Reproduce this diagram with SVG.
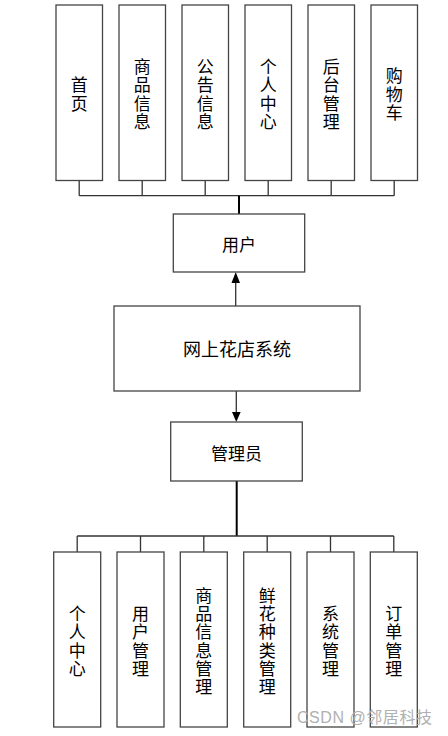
<svg xmlns="http://www.w3.org/2000/svg" width="448" height="736" viewBox="0 0 448 736">
<style>
.box{fill:#fff;stroke:#444;stroke-width:1.3}
.t{font-family:"Noto Sans CJK SC","Noto Sans",sans-serif;font-size:17px;fill:#000;text-anchor:middle;dominant-baseline:central}
.ln{stroke:#333;stroke-width:1.3;fill:none}
.stem{stroke:#000;stroke-width:2;fill:none}
.wm{font-family:"Liberation Sans","Noto Sans CJK SC",sans-serif;font-size:16px;fill:#b0b0b0}
</style>
<rect width="448" height="736" fill="#fff"/>
<g id="connectors">
<path class="ln" d="M79.2 180.5V195.7M142.2 180.5V195.7M205.2 180.5V195.7M268.2 180.5V195.7M331.2 180.5V195.7M394.2 180.5V195.7M79.2 195.7H394.2"/>
<path class="stem" d="M239 195.7V214"/>
<path class="ln" d="M235.7 306V282"/>
<polygon points="235.7,272 231.5,283 240,283" fill="#000"/>
<path class="ln" d="M236.3 391V412"/>
<polygon points="236.3,422 232,412 240.6,412" fill="#000"/>
<path class="stem" d="M236.7 481V536"/>
<path class="ln" d="M77.2 536H393.8M77.2 536V552M140.5 536V552M203.8 536V552M267.2 536V552M330.5 536V552M393.8 536V552"/>
</g>
<g id="n_home"><rect class="box" x="56" y="5" width="46.5" height="175.5"/><text class="t"><tspan x="79.2" y="83.3">首</tspan><tspan x="79.2" y="101.7">页</tspan></text></g>
<g id="n_goods"><rect class="box" x="119" y="5" width="46.5" height="175.5"/><text class="t"><tspan x="142.2" y="65">商</tspan><tspan x="142.2" y="83.3">品</tspan><tspan x="142.2" y="101.7">信</tspan><tspan x="142.2" y="120">息</tspan></text></g>
<g id="n_notice"><rect class="box" x="182" y="5" width="46.5" height="175.5"/><text class="t"><tspan x="205.2" y="65">公</tspan><tspan x="205.2" y="83.3">告</tspan><tspan x="205.2" y="101.7">信</tspan><tspan x="205.2" y="120">息</tspan></text></g>
<g id="n_personal"><rect class="box" x="245" y="5" width="46.5" height="175.5"/><text class="t"><tspan x="268.2" y="65">个</tspan><tspan x="268.2" y="83.3">人</tspan><tspan x="268.2" y="101.7">中</tspan><tspan x="268.2" y="120">心</tspan></text></g>
<g id="n_backend"><rect class="box" x="308" y="5" width="46.5" height="175.5"/><text class="t"><tspan x="331.2" y="65">后</tspan><tspan x="331.2" y="83.3">台</tspan><tspan x="331.2" y="101.7">管</tspan><tspan x="331.2" y="120">理</tspan></text></g>
<g id="n_cart"><rect class="box" x="371" y="5" width="46.5" height="175.5"/><text class="t"><tspan x="394.2" y="74.2">购</tspan><tspan x="394.2" y="92.5">物</tspan><tspan x="394.2" y="110.8">车</tspan></text></g>
<g id="n_user"><rect class="box" x="173.3" y="214" width="131.4" height="58"/><text class="t" x="239" y="243">用户</text></g>
<g id="n_system"><rect class="box" x="114" y="306" width="246" height="85"/><text class="t" x="237" y="348" style="font-size:18px">网上花店系统</text></g>
<g id="n_admin"><rect class="box" x="170.7" y="422" width="131.6" height="59"/><text class="t" x="236.5" y="452">管理员</text></g>
<g id="m_personal"><rect class="box" x="53.7" y="552" width="47" height="175"/><text class="t"><tspan x="77.2" y="612">个</tspan><tspan x="77.2" y="630.3">人</tspan><tspan x="77.2" y="648.7">中</tspan><tspan x="77.2" y="667">心</tspan></text></g>
<g id="m_user"><rect class="box" x="117" y="552" width="47" height="175"/><text class="t"><tspan x="140.5" y="612">用</tspan><tspan x="140.5" y="630.3">户</tspan><tspan x="140.5" y="648.7">管</tspan><tspan x="140.5" y="667">理</tspan></text></g>
<g id="m_goods"><rect class="box" x="180.3" y="552" width="47" height="175"/><text class="t"><tspan x="203.8" y="593.8">商</tspan><tspan x="203.8" y="612">品</tspan><tspan x="203.8" y="630.3">信</tspan><tspan x="203.8" y="648.7">息</tspan><tspan x="203.8" y="667">管</tspan><tspan x="203.8" y="685.3">理</tspan></text></g>
<g id="m_flower"><rect class="box" x="243.7" y="552" width="47" height="175"/><text class="t"><tspan x="267.2" y="593.8">鲜</tspan><tspan x="267.2" y="612">花</tspan><tspan x="267.2" y="630.3">种</tspan><tspan x="267.2" y="648.7">类</tspan><tspan x="267.2" y="667">管</tspan><tspan x="267.2" y="685.3">理</tspan></text></g>
<g id="m_system"><rect class="box" x="307" y="552" width="47" height="175"/><text class="t"><tspan x="330.5" y="612">系</tspan><tspan x="330.5" y="630.3">统</tspan><tspan x="330.5" y="648.7">管</tspan><tspan x="330.5" y="667">理</tspan></text></g>
<g id="m_order"><rect class="box" x="370.3" y="552" width="47" height="175"/><text class="t"><tspan x="393.8" y="612">订</tspan><tspan x="393.8" y="630.3">单</tspan><tspan x="393.8" y="648.7">管</tspan><tspan x="393.8" y="667">理</tspan></text></g>
<text class="wm" x="297" y="723" textLength="135">CSDN @邻居科技</text>
</svg>
